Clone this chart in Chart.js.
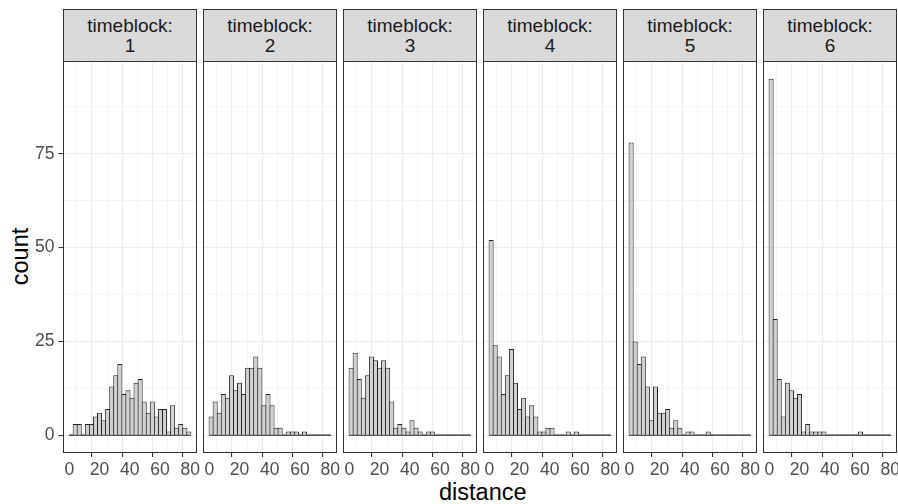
<!DOCTYPE html>
<html>
<head>
<meta charset="utf-8">
<script src="https://cdn.jsdelivr.net/npm/chart.js@4.4.1/dist/chart.umd.min.js"></script>
<style>
  body { margin: 0; background: #fff; width: 898px; height: 504px; overflow: hidden; position: relative;
         font-family: "Liberation Sans", Arial, sans-serif; }
  canvas { position: absolute; top: 58px; }
  .strip { position: absolute; top: 9px; width: 134px; height: 53px; box-sizing: border-box;
           background: #D9D9D9; border: 1px solid #333; text-align: center; color: #1A1A1A;
           font-size: 19px; line-height: 20px; padding-top: 6px; }
  .title { position: absolute; color: #000; font-size: 23.5px; white-space: nowrap; }
</style>
</head>
<body>
<div class="title" style="left:439px; top:479px;">distance</div>
<div class="title" style="left:-10px; top:243px; transform: rotate(-90deg); transform-origin: 50% 50%; width:60px; text-align:center;">count</div>

<script>
// ---------- DADOS ----------
// histograma com 30 classes comuns a todos os painéis
const binStart = -0.2;
const binWidth = 2.69;
const binCenters = Array.from({ length: 30 }, (_, i) => +(binStart + binWidth * (i + 0.5)).toFixed(3));

const timeblocks = ["1", "2", "3", "4", "5", "6"];

const counts1 = [0, 3, 3, 0, 3, 3, 5, 6, 4, 7, 13, 16, 19, 11, 12, 10, 14, 15, 9, 6, 9, 5, 7, 7, 1, 8, 2, 3, 2, 1];
const counts2 = [5, 9, 6, 11, 10, 16, 12, 14, 11, 18, 18, 21, 18, 8, 11, 8, 2, 2, 0, 1, 1, 1, 0, 1, 0, 0, 0, 0, 0, 0];
const counts3 = [18, 22, 15, 10, 16, 21, 20, 18, 20, 18, 9, 2, 3, 2, 1, 4, 2, 1, 0, 1, 1, 0, 0, 0, 0, 0, 0, 0, 0, 0];
const counts4 = [52, 24, 21, 11, 16, 23, 14, 7, 10, 5, 8, 5, 1, 1, 2, 2, 0, 0, 0, 1, 0, 1, 0, 0, 0, 0, 0, 0, 0, 0];
const counts5 = [78, 25, 19, 21, 13, 4, 13, 6, 6, 7, 2, 4, 2, 0, 1, 1, 0, 0, 0, 1, 0, 0, 0, 0, 0, 0, 0, 0, 0, 0];
const counts6 = [95, 31, 15, 5, 14, 12, 10, 11, 1, 3, 1, 1, 1, 1, 0, 0, 0, 0, 0, 0, 0, 0, 1, 0, 0, 0, 0, 0, 0, 0];
const allCounts = [counts1, counts2, counts3, counts4, counts5, counts6];

const xTicks = [0, 10, 20, 30, 40, 50, 60, 70, 80];
const yTicks = [0, 12.5, 25, 37.5, 50, 62.5, 75, 87.5];

// ---------- ESTILO ----------
const FONT = "'Liberation Sans', Arial, sans-serif";
const panelLeft0 = 63, panelStep = 140, panelW = 134, panelH = 392;

const panelBorder = {
  id: "panelBorder",
  afterDraw(chart) {
    const a = chart.chartArea, ctx = chart.ctx;
    ctx.save();
    ctx.strokeStyle = "#333333";
    ctx.lineWidth = 1;
    ctx.strokeRect(Math.round(a.left) + 0.5, Math.round(a.top) + 0.5,
                   Math.round(a.right - a.left) - 1, Math.round(a.bottom - a.top) - 1);
    ctx.restore();
  }
};

function desenharPainel(k) {
  const first = k === 0;
  const padL = first ? 0 : 3;
  const yW = first ? 63 : 0;

  const canvas = document.createElement("canvas");
  canvas.width = padL + yW + panelW + 10;
  canvas.height = 3 + panelH + 30;
  canvas.style.left = (first ? 0 : panelLeft0 + panelStep * k - 3) + "px";
  document.body.appendChild(canvas);

  const strip = document.createElement("div");
  strip.className = "strip";
  strip.style.left = (panelLeft0 + panelStep * k) + "px";
  strip.innerHTML = "timeblock:<br>" + timeblocks[k];
  document.body.appendChild(strip);

  new Chart(canvas.getContext("2d"), {
    type: "bar",
    data: {
      datasets: [
        {
          type: "line",
          data: [{ x: binStart, y: 0 }, { x: binStart + binWidth * 30, y: 0 }],
          borderColor: "#222",
          borderWidth: 1.2,
          pointRadius: 0,
          order: 2
        },
        {
          data: binCenters.map((c, i) => ({ x: c, y: allCounts[k][i] })),
          backgroundColor: "#D0D0D0",
          borderColor: "#222",
          borderWidth: 1,
          borderSkipped: "start",
          barPercentage: 1.246,
          categoryPercentage: 1,
          order: 1
        }
      ]
    },
    options: {
      responsive: false,
      animation: false,
      layout: { padding: { left: padL, right: 10, top: 3, bottom: 0 } },
      plugins: { legend: { display: false }, tooltip: { enabled: false } },
      scales: {
        x: {
          type: "linear",
          min: -4.235,
          max: 84.535,
          offset: false,
          afterBuildTicks: s => { s.ticks = xTicks.map(v => ({ value: v })); },
          afterFit: s => { s.height = 30; s.paddingLeft = 0; s.paddingRight = 0; },
          border: { display: false },
          grid: {
            color: "#EBEBEB",
            lineWidth: c => (c.tick && c.tick.value % 20 === 0 ? 1.1 : 0.55),
            tickColor: c => (c.tick && c.tick.value % 20 === 0 ? "#333333" : "rgba(0,0,0,0)"),
            tickLength: 4,
            drawTicks: true
          },
          ticks: {
            autoSkip: false, maxRotation: 0, minRotation: 0, padding: 3,
            color: "#4D4D4D",
            font: { family: FONT, size: 17.5 },
            callback: v => (v % 20 === 0 ? v : "")
          }
        },
        y: {
          min: -4.75,
          max: 99.75,
          afterBuildTicks: s => { s.ticks = yTicks.map(v => ({ value: v })); },
          afterFit: s => { s.width = yW; s.paddingTop = 0; s.paddingBottom = 0; },
          border: { display: false },
          grid: {
            color: "#EBEBEB",
            lineWidth: c => (c.tick && c.tick.value % 25 === 0 ? 1.1 : 0.55),
            tickColor: c => (c.tick && c.tick.value % 25 === 0 ? "#333333" : "rgba(0,0,0,0)"),
            tickLength: 4.5,
            drawTicks: first
          },
          ticks: {
            display: first,
            padding: 4,
            color: "#4D4D4D",
            font: { family: FONT, size: 17.5 },
            callback: v => (v % 25 === 0 ? v : "")
          }
        }
      }
    },
    plugins: [panelBorder]
  });
}

// ---------- INICIAR ----------
timeblocks.forEach((t, k) => desenharPainel(k));
</script>
</body>
</html>
